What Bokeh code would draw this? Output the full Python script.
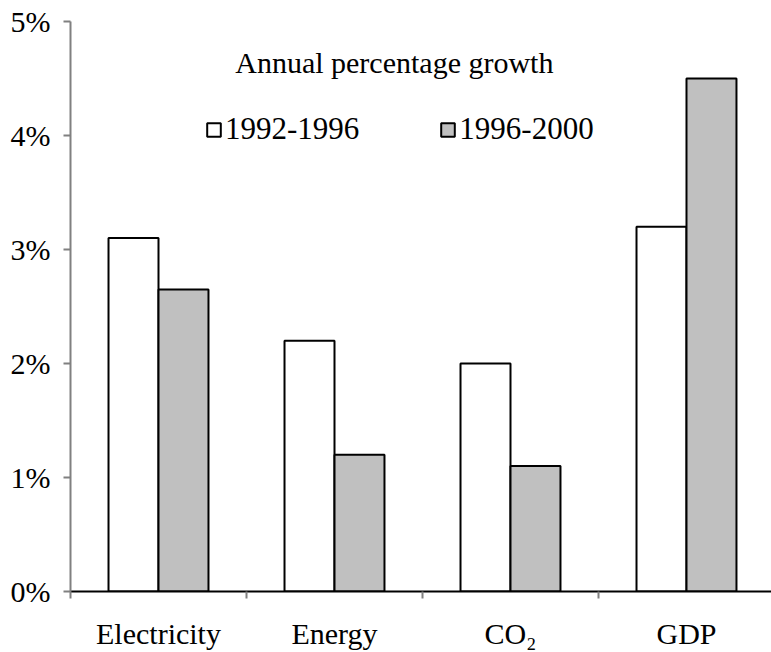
from bokeh.plotting import figure
from bokeh.models import (Range1d, FixedTicker, Legend, LegendItem, Label, ColumnDataSource)
from bokeh.transform import dodge
from bokeh.embed import file_html
from bokeh.resources import INLINE
import numpy as np

categories = ["Electricity", "Energy", "CO\u2082", "GDP"]
series_names = ["1992-1996", "1996-2000"]
growth_1992_1996 = [3.1, 2.2, 2.0, 3.2]
growth_1996_2000 = [2.65, 1.2, 1.1, 4.5]
y_ticks = [0, 1, 2, 3, 4, 5]
y_tick_labels = ["0%", "1%", "2%", "3%", "4%", "5%"]
title_text = "Annual percentage growth"

FONT = "Liberation Serif"
GRAY = "#c0c0c0"

pos = list(np.arange(len(categories)) + 0.5)
src = ColumnDataSource(dict(x=pos, a=growth_1992_1996, b=growth_1996_2000))

p = figure(width=771, height=652, output_backend="svg", toolbar_location=None,
           x_range=Range1d(0, 3.983), y_range=Range1d(0, 5),
           min_border_left=70, min_border_right=0, min_border_top=21, min_border_bottom=60)
p.outline_line_color = None
p.xgrid.visible = False
p.ygrid.visible = False
p.background_fill_color = "white"

bw = 0.284
r1 = p.vbar(x=dodge("x", -0.142), top="a", width=bw, source=src,
            fill_color="white", line_color="black", line_width=2)
r2 = p.vbar(x=dodge("x", 0.142), top="b", width=bw, source=src,
            fill_color=GRAY, line_color="black", line_width=2)

# x axis
xa = p.xaxis[0]
xa.ticker = FixedTicker(ticks=pos, minor_ticks=list(range(len(categories) + 1)))
xa.major_label_overrides = {float(v): c for v, c in zip(pos, categories)}
xa.major_tick_out = 0
xa.major_tick_in = 0
xa.minor_tick_out = 7
xa.minor_tick_in = 0
xa.minor_tick_line_color = "#808080"
xa.minor_tick_line_width = 2
xa.axis_line_color = "black"
xa.axis_line_width = 2
xa.major_label_text_font = FONT
xa.major_label_text_font_size = "30px"
xa.major_label_text_color = "black"
xa.major_label_standoff = 18

# y axis
ya = p.yaxis[0]
ya.ticker = FixedTicker(ticks=y_ticks)
ya.major_label_overrides = {v: l for v, l in zip(y_ticks, y_tick_labels)}
ya.minor_tick_line_color = None
ya.major_tick_out = 7
ya.major_tick_in = 0
ya.major_tick_line_color = "#808080"
ya.major_tick_line_width = 2
ya.axis_line_color = "#808080"
ya.axis_line_width = 2
ya.major_label_text_font = FONT
ya.major_label_text_font_size = "30px"
ya.major_label_text_color = "black"
ya.major_label_standoff = 13

p.add_layout(Label(x=1.84, y=4.64, text=title_text, text_font=FONT,
                   text_font_size="30px", text_align="center",
                   text_baseline="middle", text_color="black"))

legend = Legend(items=[LegendItem(label=series_names[0], renderers=[r1]),
                       LegendItem(label=series_names[1], renderers=[r2])],
                orientation="horizontal", location=(135, 444),
                border_line_color=None, background_fill_alpha=0,
                padding=0, margin=0, spacing=80,
                glyph_width=17, glyph_height=17, label_standoff=3,
                label_text_font=FONT, label_text_font_size="31px",
                label_text_color="black", label_height=30)
p.add_layout(legend)

open("out.html", "w").write(file_html(p, INLINE))
